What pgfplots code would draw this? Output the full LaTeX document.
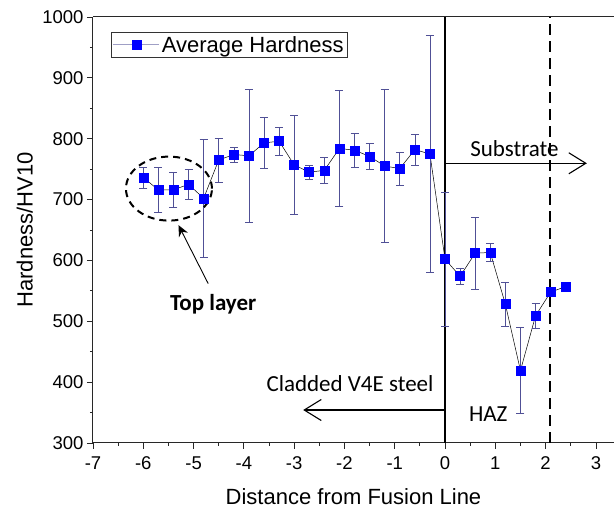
\documentclass[border=0pt]{standalone}
\usepackage{fontspec}
\setmainfont{Liberation Sans}
\newfontfamily\calibri{Carlito}
\usepackage{pgfplots}
\usepackage{pgfplotstable}
\pgfplotsset{compat=1.18}
\usetikzlibrary{arrows.meta}

\definecolor{markblue}{RGB}{0,0,255}
\definecolor{errnavy}{RGB}{80,80,150}
\definecolor{axisgray}{RGB}{40,40,40}

% Average hardness with standard deviation along the traverse
\pgfplotstableread{
x     y    err
-6.0  736  17
-5.7  716  37
-5.4  716  28
-5.1  725  25
-4.8  702  97
-4.5  765  36
-4.2  774  12
-3.9  772  110
-3.6  793  42
-3.3  796  23
-3.0  757  82
-2.7  745  12
-2.4  748  22
-2.1  784  95
-1.8  781  28
-1.5  771  21
-1.2  755  126
-0.9  751  27
-0.6  782  26
-0.3  775  195
 0.0  602  110
 0.3  574  13
 0.6  612  59
 0.9  613  15
 1.2  528  36
 1.5  419  71
 1.8  509  21
 2.1  548  7
 2.4  557  0
}\hardness

\begin{document}
\begin{tikzpicture}
\begin{axis}[
  name=ax,
  scale only axis,
  width=521pt, height=426pt,
  xmin=-7, xmax=3.36,
  ymin=300, ymax=1000,
  axis x line=box, axis y line=left,
  axis line style={-, draw=axisgray, line width=1pt},
  xtick={-7,...,3}, ytick={300,400,...,1000},
  minor x tick num=1, minor y tick num=1,
  xtick pos=lower, ytick pos=left,
  tick align=outside,
  major tick length=6pt, minor tick length=3pt,
  every tick/.style={axisgray, line width=0.8pt},
  /pgf/number format/assume math mode=true,
  /pgf/number format/1000 sep={},
  tick label style={font=\fontsize{18.5}{20}\selectfont},
  xticklabel style={yshift=-4pt},
  xlabel={Distance from Fusion Line},
  ylabel={Hardness/HV10},
  label style={font=\fontsize{22}{24}\selectfont},
  xlabel style={at={(axis description cs:0.5,-0.127)}, anchor=center},
  ylabel style={at={(axis description cs:-0.131,0.5)}, anchor=center},
  clip=false,
  legend style={at={(0.034,0.9655)}, anchor=north west, draw=black!80,
    line width=0.8pt, font=\fontsize{22}{24}\selectfont,
    inner xsep=2pt, inner ysep=2pt},
  legend image code/.code={
    \draw[color=errnavy!55, line width=0.7pt] (0pt,0pt) -- (46pt,0pt);
    \fill[markblue] (18.5pt,-4.5pt) rectangle (27.5pt,4.5pt);
  },
]

% fusion line and HAZ boundary
\draw[black, line width=2.2pt] (0,300) -- (0,1000);
\draw[black, line width=2.2pt, dash pattern=on 11pt off 6pt] (2.09,300) -- (2.09,1000);

\addplot[black, line width=0.5pt,
  mark=square*, mark size=4.5pt,
  mark options={draw=markblue, fill=markblue, solid},
  error bars/.cd, y dir=both, y explicit,
  error mark=-,
  error bar style={color=errnavy, line width=0.6pt},
  error mark options={rotate=90, color=errnavy, line width=0.6pt, mark size=4pt}]
  table[x=x, y=y, y error=err] {\hardness};
\addlegendentry{Average Hardness}

% region annotations
\draw[black, line width=1.1pt, -{Straight Barb[length=17pt,width=21pt]}] (0,759.6) -- (2.82,759.6);
\node[font=\calibri\fontsize{23}{25}\selectfont, anchor=base] at (1.38,770) {Substrate};

\draw[black, line width=1.1pt, -{Straight Barb[length=17pt,width=21pt]}] (0,354.2) -- (-2.82,354.2);
\node[font=\calibri\fontsize{23}{25}\selectfont, anchor=base] at (-1.89,383.8) {Cladded V4E steel};

\node[font=\calibri\fontsize{23}{25}\selectfont, anchor=base] at (0.86,334.5) {HAZ};

\draw[black, line width=2pt, dash pattern=on 7pt off 5pt] (-5.49,718) ellipse [x radius=43pt, y radius=32pt];
\draw[black, line width=0.9pt, -{Stealth[length=11pt,width=10pt]}] (-4.71,562) -- (-5.30,658);
\node[font=\calibri\bfseries\fontsize{23}{25}\selectfont, anchor=base] at (-4.61,518.5) {Top layer};
\end{axis}
\pgfresetboundingbox
\path ([xshift=-93pt,yshift=-67pt]ax.south west) rectangle ([yshift=17pt]ax.north east);
\end{tikzpicture}
\end{document}
